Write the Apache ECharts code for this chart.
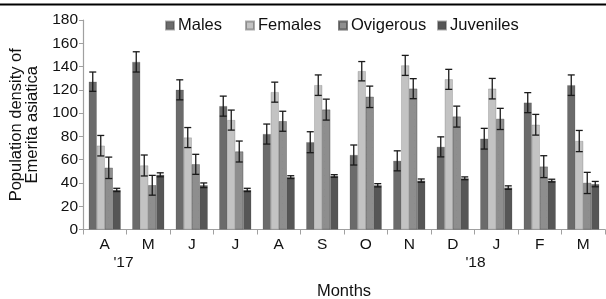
<!DOCTYPE html>
<html><head><meta charset="utf-8">
<script src="https://cdn.jsdelivr.net/npm/echarts@6/dist/echarts.min.js"></script>
<style>html,body{margin:0;padding:0;background:#fff}#c{width:606px;height:299px}</style>
</head><body><div id="c"></div>
<script>
const categories = ['A','M','J','J','A','S','O','N','D','J','F','M'];
const seriesNames = ['Males','Females','Ovigerous','Juveniles'];
const males      = [127, 144, 120, 106, 82, 75, 64, 59, 71, 78, 109, 124];
const malesErr   = [8.3, 8.7, 8.6, 8.6, 8.6, 9, 8.6, 8.6, 8.6, 8.9, 8.6, 8.8];
const females    = [72, 55, 79, 94, 118, 124, 136, 141, 129, 121, 90, 76];
const femalesErr = [8.8, 9, 8.6, 8.6, 8.6, 8.8, 8.3, 8.6, 8.6, 8.8, 8.9, 9.1];
const ovigerous  = [53, 38, 56, 67, 93, 103, 114, 121, 97, 95, 54, 40];
const ovigerousErr = [9.2, 8.5, 8.6, 9, 8.6, 9, 9.2, 8.6, 9, 9.1, 9.4, 9.1];
const juveniles  = [34, 47, 38, 34, 45, 46, 38, 42, 44, 36, 42, 39];
const juvenilesErr = [1.4, 1.7, 2, 1.4, 1.2, 1.1, 1.4, 1.4, 1.2, 1.5, 1.2, 2.3];
const yearLabels = [{text: "'17", after: 0}, {text: "'18", after: 8}];
const yTicks = {min: 0, max: 180, interval: 20};

const values = [males, females, ovigerous, juveniles];
const errs = [malesErr, femalesErr, ovigerousErr, juvenilesErr];
const colors = ['#6b6b6b', '#c3c3c3', '#8e8e8e', '#565656'];
const FONT = 'Liberation Sans, Arial, sans-serif';
const BAR_W = 8;

const chart = echarts.init(document.getElementById('c'), null, {renderer: 'canvas'});

const series = [];
values.forEach((v, k) => {
  const s = {
    name: seriesNames[k], type: 'bar', data: v, barWidth: BAR_W, barGap: '0%',
    itemStyle: {color: colors[k], borderColor: 'rgba(70,70,70,0.45)', borderWidth: 0.5},
    z: 2
  };
  if (k === 2) {
    s.itemStyle.decal = {symbol: 'circle', symbolSize: 0.6, dashArrayX: [[1, 5]], dashArrayY: [1, 6], color: 'rgba(90,90,90,0.25)', rotation: 0};
  }
  series.push(s);
});
values.forEach((v, k) => {
  series.push({
    type: 'custom', name: seriesNames[k] + ' err', z: 5, silent: true,
    data: v.map((m, i) => [i, m - errs[k][i], m + errs[k][i]]),
    renderItem: function (params, api) {
      const lo = api.coord([api.value(0), api.value(1)]);
      const hi = api.coord([api.value(0), api.value(2)]);
      const x = lo[0] + (k - 1.5) * BAR_W;
      const cap = 3.5;
      const st = {stroke: '#1a1a1a', lineWidth: 1.3};
      return {type: 'group', children: [
        {type: 'line', shape: {x1: x, y1: lo[1], x2: x, y2: hi[1]}, style: st},
        {type: 'line', shape: {x1: x - cap, y1: hi[1], x2: x + cap, y2: hi[1]}, style: st},
        {type: 'line', shape: {x1: x - cap, y1: lo[1], x2: x + cap, y2: lo[1]}, style: st}
      ]};
    }
  });
});

const legendLefts = [165, 245, 338, 437];
const legends = seriesNames.map((n, k) => ({
  data: [n], left: legendLefts[k], top: 17, itemWidth: 8, itemHeight: 8, itemGap: 0,
  icon: 'rect', textStyle: {fontFamily: FONT, fontSize: 16.5, color: '#111', padding: [0, 0, 0, -1]},
  padding: 0, selectedMode: false
}));

chart.setOption({
  animation: false,
  textStyle: {fontFamily: FONT},
  grid: {left: 83, right: 1, top: 20, bottom: 69.5, containLabel: false, outerBoundsMode: 'none'},
  legend: legends,
  xAxis: {
    type: 'category', data: categories,
    name: 'Months', nameLocation: 'middle', nameGap: 53,
    nameTextStyle: {fontFamily: FONT, fontSize: 16.5, color: '#111'},
    axisLine: {lineStyle: {color: '#a0a0a0', width: 1.2}},
    axisTick: {show: true, length: 5, lineStyle: {color: '#a0a0a0'}},
    axisLabel: {fontFamily: FONT, fontSize: 15.5, color: '#111', margin: 7}
  },
  yAxis: {
    type: 'value', min: yTicks.min, max: yTicks.max, interval: yTicks.interval,
    name: 'Population density of\nEmerita asiatica', nameLocation: 'middle', nameGap: 42,
    nameTextStyle: {fontFamily: FONT, fontSize: 16.5, color: '#111', lineHeight: 16},
    axisLine: {show: true, lineStyle: {color: '#a0a0a0', width: 1.2}},
    axisTick: {show: true, length: 4, lineStyle: {color: '#a0a0a0'}},
    splitLine: {show: false},
    axisLabel: {fontFamily: FONT, fontSize: 15.5, color: '#111', margin: 5}
  },
  series: series
});

function addGraphics() {
  const texts = yearLabels.map(y => {
    const a = chart.convertToPixel({xAxisIndex: 0}, y.after);
    const b = chart.convertToPixel({xAxisIndex: 0}, y.after + 1);
    return {type: 'text', x: (a + b) / 2 + (y.after === 0 ? -3 : 1), y: 263, style: {text: y.text, font: '15.5px ' + FONT, fill: '#111', align: 'center', verticalAlign: 'middle'}};
  });
  texts.push({type: 'rect', shape: {x: 0, y: 3.5, width: 606, height: 2}, style: {fill: '#000'}});
  chart.setOption({graphic: texts});
}
addGraphics();
</script>
</body></html>
